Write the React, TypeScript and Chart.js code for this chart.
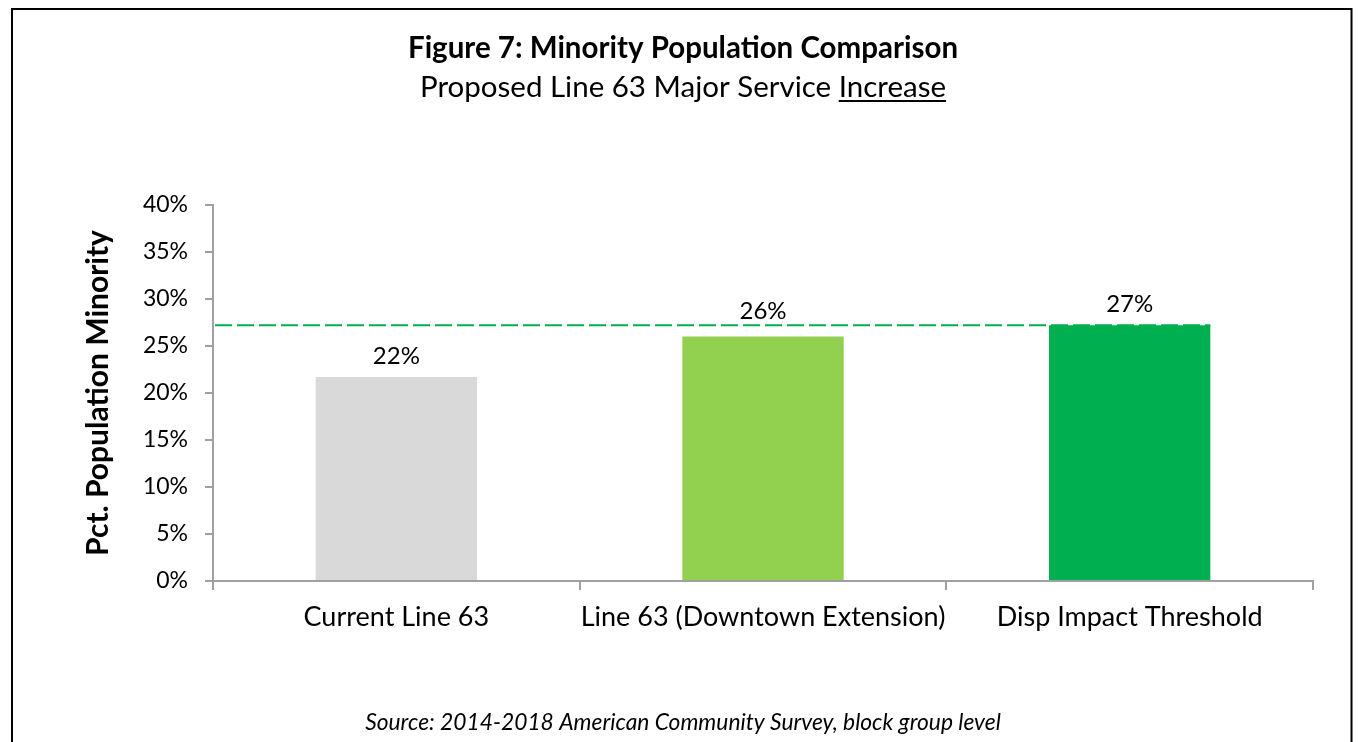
import React, { useEffect, useRef } from "react";
import { Chart, registerables } from "chart.js";

Chart.register(...registerables);

const categories = ["Current Line 63", "Line 63 (Downtown Extension)", "Disp Impact Threshold"];
const values = [21.7, 26.0, 27.2];
const valueLabels = ["22%", "26%", "27%"];
const barColors = ["#D9D9D9", "#92D050", "#00B050"];
const thresholdValue = 27.2;
const yMin = 0;
const yMax = 40;
const yStep = 5;
const titleText = "Figure 7: Minority Population Comparison";
const subtitlePrefix = "Proposed Line 63 Major Service ";
const subtitleUnderlined = "Increase";
const sourceText = "Source: 2014-2018 American Community Survey, block group level";
const yAxisTitle = "Pct. Population Minority";

const FONT = "Lato, 'Open Sans', sans-serif";

const decorPlugin = {
  id: "decor",
  beforeDraw(chart: any) {
    const ctx = chart.ctx;
    ctx.save();
    ctx.fillStyle = "#FFFFFF";
    ctx.fillRect(0, 0, chart.width, chart.height);
    ctx.strokeStyle = "#000000";
    ctx.lineWidth = 2;
    ctx.strokeRect(12, 9, 1339.5, 800);
    ctx.restore();
  },
  afterDatasetsDraw(chart: any) {
    const ctx = chart.ctx;
    const y = chart.scales.y.getPixelForValue(thresholdValue);
    const meta = chart.getDatasetMeta(0);
    const last = meta.data[meta.data.length - 1] as any;
    const xEnd = last.x + last.width / 2;
    ctx.save();
    ctx.strokeStyle = "#00B050";
    ctx.lineWidth = 2;
    ctx.setLineDash([17, 5]);
    ctx.beginPath();
    ctx.moveTo(chart.chartArea.left + 2, y);
    ctx.lineTo(xEnd, y);
    ctx.stroke();
    ctx.setLineDash([]);
    // value labels (lifted above the threshold line when they would overlap it)
    ctx.fillStyle = "#000000";
    ctx.font = `24px ${FONT}`;
    ctx.textAlign = "center";
    ctx.textBaseline = "alphabetic";
    meta.data.forEach((bar: any, i: number) => {
      let base = bar.y - 13;
      if (base > y - 4 && base - 17 < y) base = y - 6;
      ctx.fillText(valueLabels[i], bar.x, base);
    });
    ctx.restore();
  },
  afterDraw(chart: any) {
    const ctx = chart.ctx;
    const cx = 683;
    ctx.save();
    ctx.fillStyle = "#000000";
    ctx.textBaseline = "alphabetic";
    ctx.textAlign = "left";
    ctx.font = `bold 29.5px ${FONT}`;
    let w = ctx.measureText(titleText).width;
    ctx.fillText(titleText, cx - w / 2, 58);
    ctx.font = `29.5px ${FONT}`;
    const w1 = ctx.measureText(subtitlePrefix).width;
    const w2 = ctx.measureText(subtitleUnderlined).width;
    const sx = cx - (w1 + w2) / 2;
    ctx.fillText(subtitlePrefix, sx, 97);
    ctx.fillText(subtitleUnderlined, sx + w1, 97);
    ctx.fillRect(sx + w1, 100, w2, 2);
    ctx.font = `italic 22.8px ${FONT}`;
    w = ctx.measureText(sourceText).width;
    ctx.fillText(sourceText, cx - w / 2, 730);
    ctx.restore();
  },
};

export default function App() {
  const ref = useRef<HTMLCanvasElement | null>(null);
  useEffect(() => {
    if (!ref.current) return;
    const chart = new Chart(ref.current, {
      type: "bar",
      data: {
        labels: categories,
        datasets: [
          {
            data: values,
            backgroundColor: barColors,
            barPercentage: 0.44,
            categoryPercentage: 1,
          },
        ],
      },
      options: {
        responsive: false,
        animation: false,
        devicePixelRatio: 1,
        layout: { padding: { left: 0, right: 45, top: 205, bottom: 0 } },
        plugins: { legend: { display: false }, tooltip: { enabled: false }, title: { display: false } },
        scales: {
          x: {
            grid: {
              display: true,
              drawOnChartArea: false,
              drawTicks: true,
              tickLength: 9,
              color: "#A0A0A0",
              lineWidth: 2,
              offset: true,
            },
            border: { color: "#A0A0A0", width: 2 },
            ticks: { color: "#000000", font: { family: FONT, size: 27 }, padding: 11, maxRotation: 0, autoSkip: false },
            afterFit: (s: any) => {
              s.height = 742 - 581;
            },
          },
          y: {
            min: yMin,
            max: yMax,
            ticks: {
              stepSize: yStep,
              callback: (v: any) => `${v}%`,
              color: "#000000",
              font: { family: FONT, size: 23 },
              padding: 17,
            },
            grid: { drawOnChartArea: false, drawTicks: true, tickLength: 8, color: "#A0A0A0", lineWidth: 2 },
            border: { color: "#A0A0A0", width: 2 },
            title: {
              display: true,
              text: yAxisTitle,
              color: "#000000",
              font: { family: FONT, size: 30, weight: "bold" },
              padding: { top: 80, bottom: 0 },
            },
            afterFit: (s: any) => {
              s.width = 213;
            },
          },
        },
      },
      plugins: [decorPlugin],
    });
    return () => chart.destroy();
  }, []);
  return (
    <div style={{ position: "absolute", left: 0, top: 0, width: 1358, height: 742, overflow: "hidden", background: "#fff" }}>
      <canvas ref={ref} width={1358} height={742} style={{ display: "block", width: 1358, height: 742 }} />
    </div>
  );
}
